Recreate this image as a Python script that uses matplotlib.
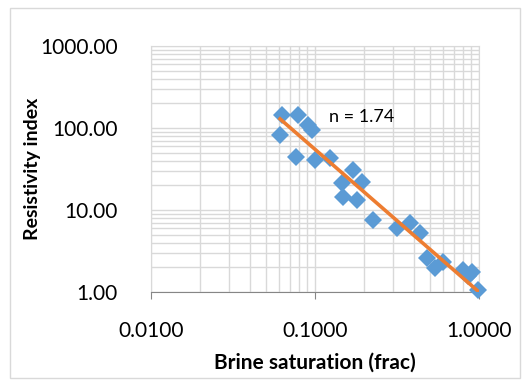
import numpy as np
import matplotlib
matplotlib.use("Agg")
import matplotlib.pyplot as plt
from matplotlib.patches import Rectangle
from matplotlib.ticker import FixedLocator, FuncFormatter, LogLocator, NullFormatter

plt.rcParams['font.family'] = ['Lato', 'DejaVu Sans']

# brine saturation (frac) and resistivity index
sw = [0.0630, 0.0788, 0.0906, 0.0959, 0.0612, 0.0766, 0.100, 0.1234,
      0.1705, 0.1935, 0.146, 0.148, 0.180, 0.226, 0.316, 0.380, 0.437,
      0.482, 0.603, 0.539, 0.799, 0.906, 0.986, 0.857]
ri = [144, 144, 109, 94.6, 82, 44.3, 40.7, 43,
      30.7, 22, 21.3, 14.4, 13.2, 7.55, 6.03, 6.94, 5.24,
      2.60, 2.32, 1.96, 1.85, 1.75, 1.06, 1.57]

# power trendline RI = a * Sw^-n
a_coef = 1.0
n_exp = 1.74

x_ticks = [0.01, 0.1, 1.0]
y_ticks = [1, 10, 100, 1000]

fig = plt.figure(figsize=(5.31, 3.81), dpi=100)
ax = fig.add_axes([151/531, 1-292/381, (479-151)/531, (292-46)/381])

ax.set_xscale('log')
ax.set_yscale('log')
ax.set_xlim(0.01, 1.0)
ax.set_ylim(1, 1000)

grid_c = '#d9d9d9'
ax.xaxis.set_major_locator(FixedLocator(x_ticks))
ax.yaxis.set_major_locator(FixedLocator(y_ticks))
ax.xaxis.set_minor_locator(LogLocator(base=10, subs=np.arange(2, 10)))
ax.yaxis.set_minor_locator(LogLocator(base=10, subs=np.arange(2, 10)))
ax.xaxis.set_minor_formatter(NullFormatter())
ax.yaxis.set_minor_formatter(NullFormatter())
ax.xaxis.set_major_formatter(FuncFormatter(lambda v, p: f"{v:.4f}"))
ax.yaxis.set_major_formatter(FuncFormatter(lambda v, p: f"{v:.2f}"))
ax.grid(True, which='both', color=grid_c, lw=1.0)
ax.set_axisbelow(True)

for s in ['top', 'right', 'left']:
    ax.spines[s].set_color(grid_c)
ax.spines['bottom'].set_color('#868686')
ax.tick_params(axis='x', which='major', direction='out', length=5, color='#868686',
               labelsize=15, pad=16)
ax.tick_params(axis='x', which='minor', length=0)
ax.tick_params(axis='y', which='both', length=0, labelsize=15, pad=24)

ax.plot(sw, ri, 'D', color='#5B9BD5', ms=9.6, mew=0, zorder=3, clip_on=False)

x_fit = np.array([min(sw), max(sw)])
ax.plot(x_fit, a_coef * x_fit ** (-n_exp), color='#ED7D31', lw=2.6, zorder=4)

ax.text(0.543, 0.711, "n = 1.74", transform=ax.transAxes, fontsize=13,
        ha='left', va='center', zorder=5)

ax.set_xlabel("Brine saturation (frac)", fontsize=15, fontweight='bold', labelpad=8)
ax.set_ylabel("Resistivity index", fontsize=14, fontweight='bold', labelpad=8)
ax.yaxis.set_label_coords(-0.335, 0.5)

fig.patches.append(Rectangle((10/531, 3/381), 510/531, 370/381, transform=fig.transFigure,
                             fill=False, edgecolor='#d9d9d9', lw=1.0))

fig.savefig("out.png", dpi=100)
